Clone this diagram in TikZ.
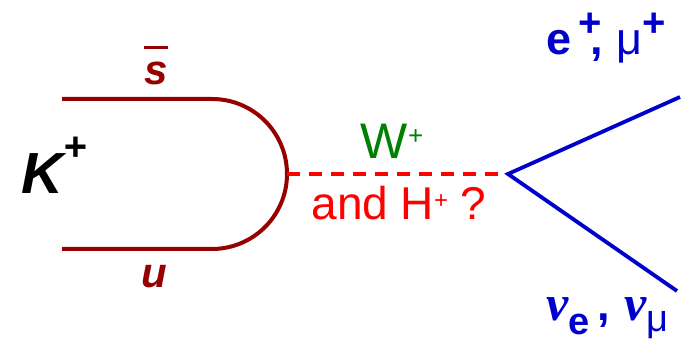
\documentclass[tikz,border=0pt]{standalone}
\usepackage{fontspec}
\setmainfont{Liberation Sans}
\newfontfamily\greekfont{Liberation Serif}
\usetikzlibrary{positioning}
\definecolor{quarkred}{RGB}{150,0,0}
\definecolor{bosongreen}{RGB}{0,128,0}
\definecolor{leptonblue}{RGB}{0,0,205}
\newcommand{\antiq}[1]{\leavevmode\vbox{\hrule height 3.5pt\kern 13pt\hbox{#1}}}
\newcommand{\chg}[2]{\raisebox{#1}{\fontsize{#2}{#2}\selectfont +}}

\begin{document}
\begin{tikzpicture}[x=1pt,y=1pt,
		quark/.style={line width=4pt,quarkred},
		boson/.style={line width=3.5pt,red,dash pattern=on 13pt off 9pt},
		lepton/.style={line width=3.8pt,leptonblue},
		quarklbl/.style={inner sep=0pt,quarkred,font=\fontsize{42}{42}\selectfont\bfseries\itshape},
		leptonlbl/.style={inner sep=0pt,anchor=base west,leptonblue,font=\fontsize{45}{45}\selectfont\bfseries}]
		\useasboundingbox (0,0) rectangle (681,344);
		% Vertices
		\coordinate (sbarL) at (62,245);
		\coordinate (sbarR) at (212,245);
		\coordinate (upL) at (62,95);
		\coordinate (qvtx) at (287,170);
		\coordinate (lvtx) at (508,170);
		\coordinate (lepUp) at (680,247);
		\coordinate (lepDn) at (677,53);
		% Lines
		\draw[quark] (sbarL) -- (sbarR) arc[start angle=90,end angle=-90,radius=75] -- (upL);
		\draw[boson] (qvtx) -- (lvtx);
		\draw[lepton,miter limit=20] (lepUp) -- (lvtx) -- (lepDn);
		% Labels
		\node[quarklbl,anchor=base] (sbarlbl) at (156,259) {\antiq{s}};
		\node[quarklbl,anchor=base] (uplbl) at (154,56) {u};
		\node[inner sep=0pt,anchor=base west,font=\fontsize{58}{58}\selectfont\bfseries\itshape] (kaon) at (21,150) {K\chg{33pt}{40}};
		\node[inner sep=0pt,anchor=base,bosongreen,font=\fontsize{50}{50}\selectfont] (wlbl) at (392,185) {W\chg{14pt}{26}};
		\node[inner sep=0pt,anchor=base,red,font=\fontsize{46}{46}\selectfont] (hlbl) at (399,124) {and H\chg{11pt}{24} ?};
		\node[leptonlbl] (chlep) at (546,289) {e\hspace{7pt}\rlap{\chg{18pt}{40}}\hspace{12pt},\hspace{14pt}{\mdseries μ}\chg{18pt}{40}};
		\node[leptonlbl] (nulep) at (546,23) {{\greekfont\itshape\fontsize{50}{50}\selectfont ν}\raisebox{-14pt}{\fontsize{38}{38}\selectfont e}\hspace{8pt},\hspace{14pt}{\greekfont\itshape\fontsize{50}{50}\selectfont ν}\raisebox{-11pt}{\fontsize{38}{38}\selectfont\mdseries μ}};
	\end{tikzpicture}
\end{document}
